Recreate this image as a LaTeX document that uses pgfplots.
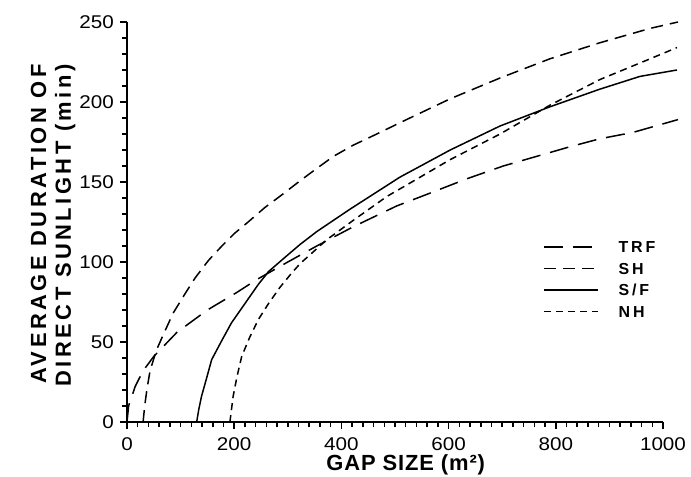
\documentclass[border=0pt]{standalone}
\usepackage{fontspec}
\setmainfont{Liberation Sans}
\newfontfamily\tickfont[FakeStretch=1.12]{Liberation Sans}
\newfontfamily\labfont[LetterSpace=16]{Liberation Sans}
\newfontfamily\xlabfont[LetterSpace=4]{Liberation Sans}
\newfontfamily\legfont[LetterSpace=18]{Liberation Sans}
\usepackage{pgfplots}
\pgfplotsset{compat=1.18}
\begin{document}
\begin{tikzpicture}
\begin{axis}[
  scale only axis, width=536bp, height=400bp,
  xmin=0, xmax=1000, ymin=0, ymax=250,
  axis lines=left,
  axis line style={-, line width=1.7bp},
  xtick={0,200,...,1000}, ytick={0,50,...,250},
  minor xtick={20,40,...,980}, minor ytick={10,20,...,240},
  tick align=outside,
  major tick length=7bp, minor tick length=5bp,
  every tick/.append style={black, line width=1.5bp},
  tick label style={font=\tickfont\fontsize{18.5}{18.5}\selectfont},
  /pgf/number format/assume math mode=true,
  /pgf/number format/1000 sep={},
  yticklabel style={inner sep=0pt, xshift=-6bp},
  xticklabel style={inner sep=0pt, yshift=-8bp},
  clip=false,
  xlabel={GAP SIZE (m²)},
  xlabel style={at={(rel axis cs:0.52,0)}, anchor=base, yshift=-48bp, inner sep=0pt,
    font=\xlabfont\bfseries\fontsize{22}{22}\selectfont},
  ylabel={AVERAGE DURATION OF\\DIRECT SUNLIGHT (min)},
  ylabel style={at={(rel axis cs:-0.180,0.895)}, anchor=north east, align=right, inner sep=0pt,
    font=\labfont\bfseries\fontsize{22}{25}\selectfont},
  legend style={draw=none, fill=none, at={(axis cs:776,113)}, anchor=north west,
    inner sep=0pt, row sep=10bp, column sep=20bp,
    font=\legfont\bfseries\fontsize{16}{16}\selectfont,
    nodes={inner sep=0pt, text height=11.5bp, text depth=0pt}},
  legend cell align=left,
  legend image code/.code={\draw[#1] (0bp,0bp) -- (54bp,0bp);},
]
% TRF
\addplot[black, line width=1.5bp, dash pattern=on 19bp off 10bp] coordinates {
(0,0) (3,10) (15,22) (30,32) (50,41) (93,56) (150,70) (205,81) (242,89) (300,100)
(354,110) (422,122) (503,135) (565,143) (634,152) (702,160) (764,166) (826,172)
(882,177) (944,181) (1028,189)};
\addlegendentry{TRF}
% SH
\addplot[black, line width=1.5bp, dash pattern=on 12bp off 7bp] coordinates {
(30,0) (33,10) (37,20) (43,32) (55,45) (71,57) (86,68) (108,80) (127,90) (152,101)
(177,110) (201,118) (226,125) (257,134) (289,142) (320,150) (348,157) (385,166)
(422,173) (466,180) (509,187) (603,202) (696,215) (789,227) (882,237) (976,246) (1028,250)};
\addlegendentry{SH}
% S/F
\addplot[black, line width=1.5bp] coordinates {
(130,0) (134,8) (139,16) (149,28) (158,39) (177,51) (195,62) (220,74) (245,86) (264,94)
(295,103) (323,111) (354,119) (416,133) (509,153) (603,170) (696,185) (789,197)
(882,208) (957,216) (1026,220)};
\addlegendentry{S/F}
% NH
\addplot[black, line width=1.5bp, dash pattern=on 7bp off 5bp] coordinates {
(192,0) (195,8) (198,16) (205,28) (214,41) (229,53) (245,64) (264,74) (285,84) (307,93)
(323,99) (373,114) (422,126) (485,141) (516,147) (603,164) (696,180) (789,198)
(882,214) (976,227) (1026,234)};
\addlegendentry{NH}
\end{axis}
\path (-127bp,-55bp) rectangle (564bp,422bp);
\end{tikzpicture}
\end{document}
